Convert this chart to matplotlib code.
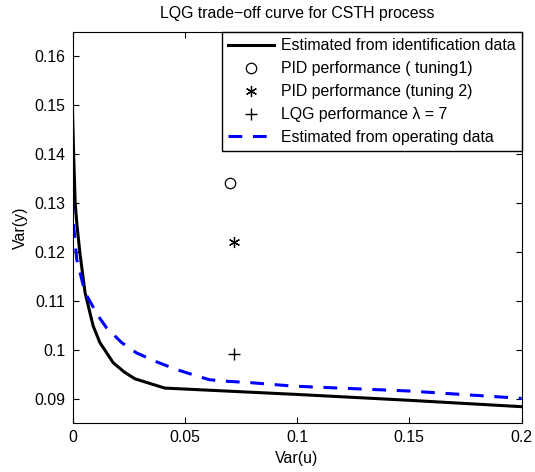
import matplotlib
matplotlib.use('Agg')
import matplotlib.pyplot as plt

plt.rcParams['font.family'] = ['Liberation Sans', 'DejaVu Sans']
fs = 11.4

# trade-off curve estimated from identification data
var_u_id = [0.0, 0.0005, 0.0012, 0.0020, 0.0033, 0.0056, 0.0092, 0.0122, 0.0181, 0.0230, 0.0278, 0.0411, 0.1, 0.15, 0.2]
var_y_id = [0.149, 0.1400, 0.1300, 0.1255, 0.1198, 0.1117, 0.1049, 0.1015, 0.0974, 0.0955, 0.0941, 0.0922, 0.0909, 0.0897, 0.0884]

# trade-off curve estimated from operating data
var_u_op = [0.0, 0.0004, 0.0019, 0.0056, 0.0115, 0.0152, 0.0219, 0.0285, 0.0367, 0.0463, 0.0552, 0.0611, 0.0685, 0.0796, 0.0984, 0.150, 0.2]
var_y_op = [0.1307, 0.1260, 0.1185, 0.1117, 0.1069, 0.1045, 0.1015, 0.0994, 0.0977, 0.0960, 0.0947, 0.0939, 0.0936, 0.0933, 0.0926, 0.0916, 0.0901]

pid1 = (0.0702, 0.1342)
pid2 = (0.0720, 0.1220)
lqg7 = (0.0720, 0.0991)

fig = plt.figure(figsize=(5.35, 4.72), dpi=100)
ax = fig.add_axes([72.5/535, 1 - 423.3/472, (521.5-72.5)/535, (423.3-32)/472])

ax.plot(var_u_id, var_y_id, color='black', lw=2.2, label='Estimated from identification data')
ax.plot(*pid1, 'o', mfc='none', mec='black', ms=7.5, mew=0.9, ls='none', label='PID performance ( tuning1)')
ax.plot(*pid2, marker=(6, 2, 0), color='black', ms=8, mew=0.9, ls='none', label='PID performance (tuning 2)')
ax.plot(*lqg7, '+', color='black', ms=8, mew=1.0, ls='none', label='LQG performance \u03bb = 7')
ax.plot(var_u_op, var_y_op, color='blue', lw=2.2, ls=(0, (4.5, 3.5)), label='Estimated from operating data')

ax.set_xlim(0, 0.2)
ax.set_ylim(0.085, 0.165)
ax.set_xticks([0, 0.05, 0.1, 0.15, 0.2])
ax.set_xticklabels(['0', '0.05', '0.1', '0.15', '0.2'])
ax.set_yticks([0.09, 0.1, 0.11, 0.12, 0.13, 0.14, 0.15, 0.16])
ax.set_yticklabels(['0.09', '0.1', '0.11', '0.12', '0.13', '0.14', '0.15', '0.16'])
ax.tick_params(direction='in', top=True, right=True, length=4.5, width=0.8, labelsize=fs, pad=5)
for s in ax.spines.values():
    s.set_linewidth(0.8)

ax.set_xlabel('Var(u)', fontsize=fs, labelpad=4)
ax.set_ylabel('Var(y)', fontsize=fs, labelpad=5)
ax.set_title('LQG trade\u2212off curve for CSTH process', fontsize=fs, pad=10)

leg = ax.legend(loc='upper right', borderaxespad=0, fancybox=False, framealpha=1,
                edgecolor='black', handlelength=2.9, handletextpad=0.4,
                labelspacing=0.5, borderpad=0.4, fontsize=fs)
leg.get_frame().set_linewidth(1.0)

fig.savefig('out.png', dpi=100)
